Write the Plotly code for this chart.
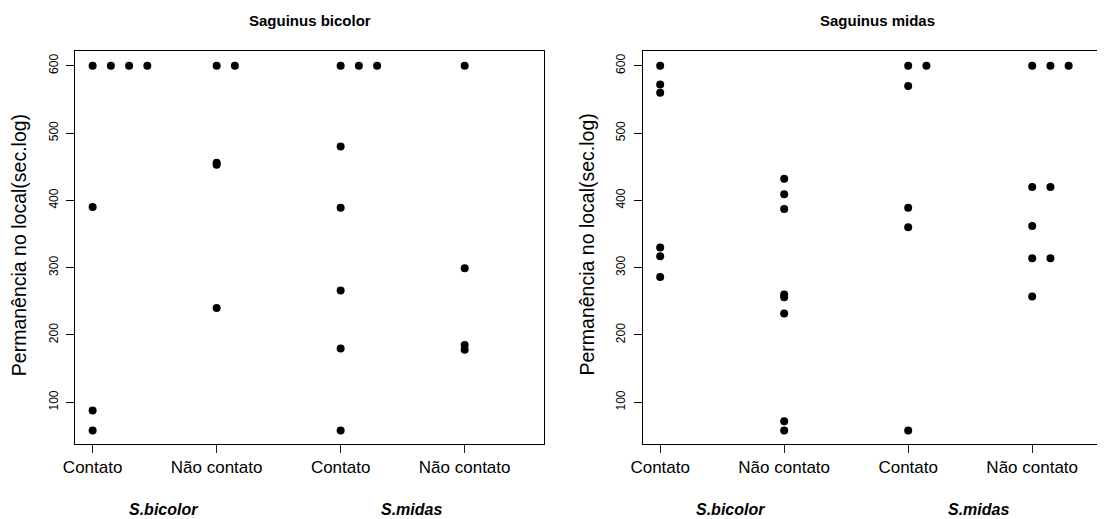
import plotly.graph_objects as go
from collections import Counter

# ---------------- data ----------------
categories = ["Contato", "Não contato", "Contato", "Não contato"]
group_labels = ["S.bicolor", "S.midas"]
panel_titles = ["Saguinus bicolor", "Saguinus midas"]
y_ticks = [100, 200, 300, 400, 500, 600]
y_title = "Permanência no local(sec.log)"

# Left panel (Saguinus bicolor)
left_sb_contato = [600, 600, 600, 600, 390, 88, 58]
left_sb_nao = [600, 600, 456, 453, 240]
left_sm_contato = [600, 600, 600, 480, 389, 266, 180, 58]
left_sm_nao = [600, 299, 185, 178]

# Right panel (Saguinus midas)
right_sb_contato = [600, 572, 560, 330, 317, 286]
right_sb_nao = [432, 409, 387, 260, 256, 232, 72, 58]
right_sm_contato = [600, 600, 570, 389, 360, 58]
right_sm_nao = [600, 600, 600, 420, 420, 362, 314, 314, 257]

left_panel = [left_sb_contato, left_sb_nao, left_sm_contato, left_sm_nao]
right_panel = [right_sb_contato, right_sb_nao, right_sm_contato, right_sm_nao]

STACK_STEP = 0.147  # stripchart(method="stack") offset


def stacked(values, base):
    seen = Counter()
    xs = []
    for v in values:
        xs.append(base + STACK_STEP * seen[v])
        seen[v] += 1
    return xs


# page body has an 8px margin: work in screen pixels and convert
OFF = 8
W, H = 1105 - OFF, 519 - OFF


def px(xs):
    return (xs - OFF) / W


def py(ys):
    return 1 - (ys - OFF) / H


FONT = "Liberation Sans, Arial, Helvetica, sans-serif"

fig = go.Figure()
for panel, (xa, ya) in ((left_panel, ("x", "y")), (right_panel, ("x2", "y2"))):
    xs, ys = [], []
    for i, vals in enumerate(panel):
        xs += stacked(vals, i + 1)
        ys += vals
    fig.add_trace(go.Scatter(
        x=xs, y=ys, mode="markers", xaxis=xa, yaxis=ya,
        marker=dict(color="black", size=8, line=dict(width=0)),
        showlegend=False, hoverinfo="x+y"))

y_dom = [py(444), py(50.5)]
y_range = [38.06, 622.6]
left_dom = [px(75.4), px(544.4)]
right_dom = [px(642.7), 1.0]
left_xrange = [0.861, 4.643]
right_xrange = [0.859, 4.587]

xcommon = dict(tickvals=[1, 2, 3, 4], ticktext=categories, ticks="outside",
               ticklen=8, tickwidth=1, tickcolor="#222", showgrid=False,
               zeroline=False, showline=True, linecolor="black", linewidth=1,
               mirror=True, tickfont=dict(size=17, color="black", family=FONT),
               automargin=False, fixedrange=True)
ycommon = dict(tickvals=y_ticks, ticks="outside", ticklen=8, tickwidth=1,
               tickcolor="black", showgrid=False, zeroline=False,
               showline=True, linecolor="black", linewidth=1,
               tickangle=-90, tickfont=dict(size=12, color="black", family=FONT),
               range=y_range, domain=y_dom, ticklabelstandoff=4,
               automargin=False, fixedrange=True)

fig.update_layout(
    width=W, height=H,
    margin=dict(l=0, r=0, t=0, b=0, autoexpand=False),
    paper_bgcolor="white", plot_bgcolor="white",
    font=dict(family=FONT, color="black"),
    xaxis=dict(domain=left_dom, range=left_xrange, anchor="y", **xcommon),
    yaxis=dict(anchor="x", mirror=True, **ycommon),
    xaxis2=dict(domain=right_dom, range=right_xrange, anchor="y2", **xcommon),
    yaxis2=dict(anchor="x2", mirror=False, **ycommon),
)

ann = []
for xref, title, lab_x in (("x", panel_titles[0], 19.2), ("x2", panel_titles[1], 586.5)):
    ann.append(dict(text="<b>%s</b>" % title, xref=xref, yref="paper",
                    x=2.752, y=py(20), showarrow=False,
                    xanchor="center", yanchor="middle",
                    font=dict(size=15, family=FONT, color="black")))
    ann.append(dict(text=y_title, xref="paper", yref="paper",
                    x=px(lab_x), y=py(245), textangle=-90, showarrow=False,
                    xanchor="center", yanchor="middle",
                    font=dict(size=19.5, family=FONT, color="black")))
    for gx, g in zip([1.57, 3.57], group_labels):
        ann.append(dict(text="<b><i>%s</i></b>" % g, xref=xref, yref="paper",
                        x=gx, y=py(509), showarrow=False,
                        xanchor="center", yanchor="middle",
                        font=dict(size=16, family=FONT, color="black")))
fig.update_layout(annotations=ann)

fig.write_html("out.html")
